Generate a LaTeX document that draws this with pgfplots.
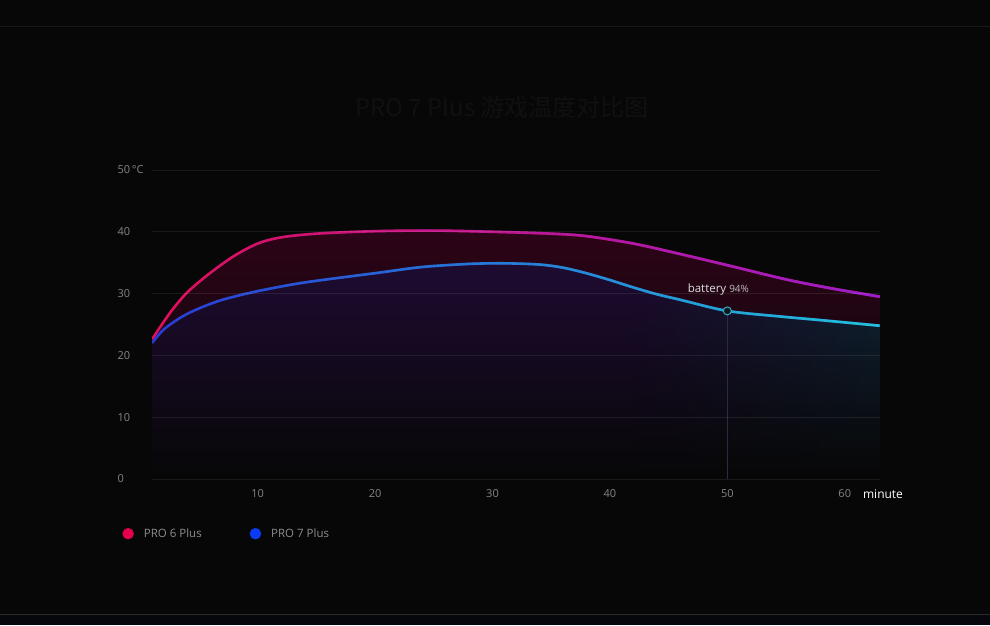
\documentclass[border=0pt]{standalone}
\usepackage{fontspec}
\setmainfont{Open Sans}
\newfontfamily\cjk{Noto Sans CJK SC}
\usepackage{pgfplots}
\usepackage{pgfplotstable}
\pgfplotsset{compat=1.18}
\usetikzlibrary{fadings}
\tikzfading[name=fadeR, left color=transparent!100, middle color=transparent!85, right color=transparent!0]
\tikzfading[name=fadeR2, left color=transparent!100, right color=transparent!0]

\definecolor{bg}{HTML}{070707}
\definecolor{topline}{HTML}{181818}
\definecolor{botline}{HTML}{2C2C2C}
\definecolor{botfill}{HTML}{05070D}
\definecolor{titlec}{HTML}{101010}
\definecolor{tickc}{HTML}{858585}
\definecolor{legc}{HTML}{8E8E8E}
\definecolor{pinkL}{HTML}{E5004E}
\definecolor{blueL}{HTML}{0A3CF5}
\definecolor{pinkline}{HTML}{E0105A}
\definecolor{purpleline}{HTML}{9A1ED2}
\definecolor{blueline}{HTML}{2A3AD6}
\definecolor{cyanline}{HTML}{22C4D4}
\definecolor{redTop}{HTML}{2C0417}
\definecolor{redMid}{HTML}{14050B}
\definecolor{blueTop}{HTML}{1E0B31}
\definecolor{blueMid}{HTML}{0F0818}
\definecolor{tealfill}{HTML}{102233}
\definecolor{vline}{HTML}{2A2A40}
\definecolor{markd}{HTML}{3AA8C0}
\definecolor{markf}{HTML}{0A1820}

\pgfplotstableread{
x y
1 22.6
2.5 26.8
4 30.2
6 33.4
8 36.1
10 38.1
12 39.1
15 39.7
20 40.1
25 40.2
30 40.0
35 39.7
38 39.3
42 38.1
46 36.4
50 34.6
55 32.3
59 30.8
63 29.5
}\redtab

\pgfplotstableread{
x y
1 22.0
2 24.2
3.5 26.2
5 27.6
7 29.0
10 30.4
14 31.8
20 33.3
24 34.3
28 34.8
31 34.9
34 34.7
36 34.2
38 33.3
40 32.2
42 31.0
44 29.9
46 29.0
50 27.2
54.5 26.3
58 25.7
63 24.8
}\bluetab

\pgfplotstableread{
x y
42 31.0
44 29.9
46 29.0
50 27.2
54.5 26.3
58 25.7
63 24.8
}\bluetabR

\begin{document}
\begin{tikzpicture}
\path[use as bounding box, fill=bg] (0pt,0pt) rectangle (990pt,625pt);
\draw[topline, line width=1pt] (0pt,598pt) -- (990pt,598pt);
\fill[botfill] (0pt,0pt) rectangle (990pt,11pt);
\draw[botline, line width=1pt] (0pt,11pt) -- (990pt,11pt);
\node[text=titlec, font=\cjk\fontsize{24}{28}\selectfont] at (502pt,518pt) {PRO 7 Plus 游戏温度对比图};

\begin{axis}[
  at={(152pt,146pt)}, anchor=south west,
  scale only axis, width=728pt, height=309pt,
  xmin=1, xmax=63, ymin=0, ymax=50,
  axis on top,
  axis line style={draw=none}, tick style={draw=none},
  xtick={10,20,30,40,50,60},
  ytick={0,10,20,30,40,50},
  yticklabels={0,10,20,30,40,50\,°C},
  ymajorgrids, grid style={white, opacity=0.08, line width=0.8pt},
  /pgf/number format/assume math mode=true,
  ticklabel style={font=\fontsize{11}{13}\selectfont, text=tickc},
  yticklabel style={anchor=west, xshift=-38pt},
  xticklabel style={yshift=-7pt},
  xlabel={minute},
  xlabel style={at={(axis description cs:1,0)}, anchor=center, xshift=3pt, yshift=-15pt, text=white, font=\fontsize{12}{14}\selectfont},
  legend columns=2,
  legend style={at={(axis description cs:-0.045,-0.177)}, anchor=west, draw=none, fill=none,
     text=legc, font=\fontsize{11.5}{13}\selectfont,
     /tikz/every odd column/.append style={column sep=8pt},
     /tikz/every even column/.append style={column sep=46pt}},
  legend image code/.code={\fill[#1] (0pt,0pt) circle (5.5pt);},
]
\addplot[smooth, draw=none, top color=redTop, middle color=redMid, bottom color=bg, forget plot] table {\redtab} \closedcycle;
\addplot[smooth, draw=none, top color=blueTop, middle color=blueMid, bottom color=bg, forget plot] table {\bluetab} \closedcycle;
\addplot[smooth, draw=none, top color=tealfill, bottom color=bg, path fading=fadeR2, forget plot] table {\bluetabR} \closedcycle;

\addplot[vline, line width=0.8pt, forget plot] coordinates {(50,0) (50,27.2)};

\addplot[smooth, line width=2.6pt, pinkline, forget plot] table {\redtab};
\addplot[smooth, line width=2.6pt, purpleline, path fading=fadeR, forget plot] table {\redtab};
\addplot[smooth, line width=2.6pt, blueline, forget plot] table {\bluetab};
\addplot[smooth, line width=2.6pt, cyanline, path fading=fadeR, forget plot] table {\bluetab};

\addplot[only marks, mark=*, mark size=4pt, mark options={draw=markd, fill=markf, line width=1pt}, forget plot] coordinates {(50,27.2)};

\node[anchor=base, xshift=-9pt, yshift=18pt, text=white!88!black] at (axis cs:50,27.2) {\fontsize{11.5}{13}\selectfont battery {\fontsize{10}{12}\selectfont\color{white!75!black}94\%}};

\addlegendimage{pinkL}
\addlegendentry{PRO 6 Plus}
\addlegendimage{blueL}
\addlegendentry{PRO 7 Plus}
\end{axis}
\end{tikzpicture}
\end{document}
